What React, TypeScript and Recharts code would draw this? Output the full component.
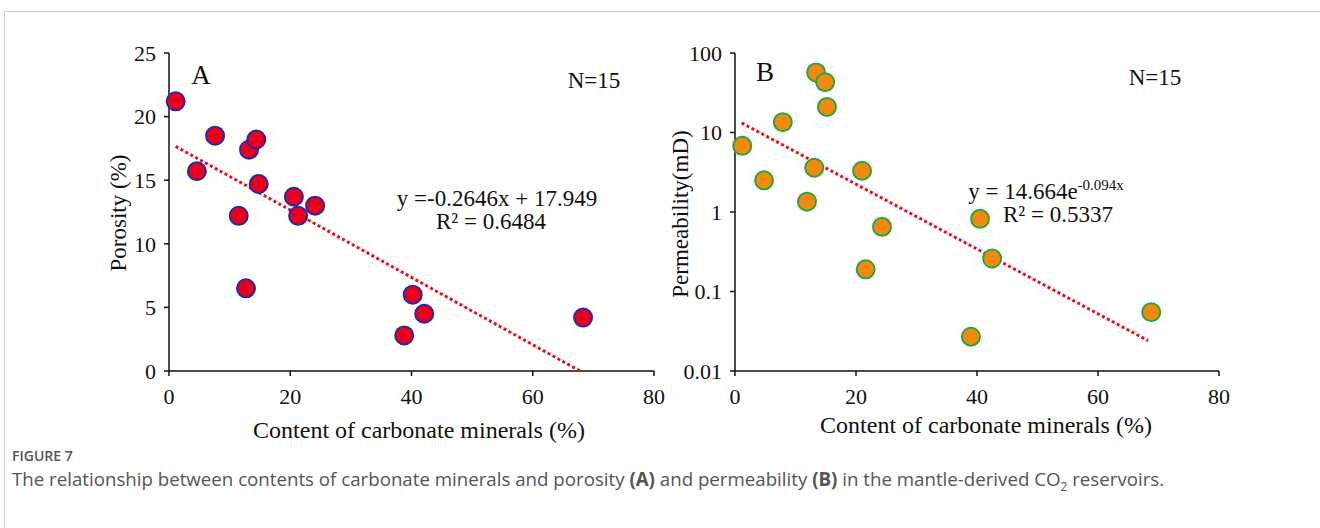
import React from "react";
import {
  ScatterChart,
  Scatter,
  XAxis,
  YAxis,
} from "recharts";

// carbonate content (%) for each sample
const carbonateA = [1.1, 4.6, 7.6, 11.5, 13.2, 12.7, 14.4, 14.8, 20.6, 21.3, 24.1, 38.8, 40.2, 42.1, 68.3];
const porosity = [21.2, 15.7, 18.5, 12.2, 17.4, 6.5, 18.2, 14.7, 13.7, 12.2, 13.0, 2.8, 6.0, 4.5, 4.2];

const carbonateB = [1.2, 4.8, 7.9, 11.9, 13.4, 13.1, 14.9, 15.2, 21.0, 21.6, 24.3, 40.5, 39.0, 42.5, 68.8];
const permeability = [6.8, 2.5, 13.5, 1.35, 57, 3.6, 43, 21, 3.3, 0.19, 0.65, 0.82, 0.027, 0.26, 0.055];

// trend line end points
const trendAx = [1.1, 67.8];
const trendAy = [17.66, 0];
const trendBx = [1.1, 68.3];
const trendBy = [13.2, 0.024];

const xTicks = [0, 20, 40, 60, 80];
const porosityTicks = [0, 5, 10, 15, 20, 25];
const permTicks = [0.01, 0.1, 1, 10, 100];

const ptsA = carbonateA.map((x, i) => ({ x, y: porosity[i] }));
const ptsB = carbonateB.map((x, i) => ({ x, y: permeability[i] }));
const lineA = trendAx.map((x, i) => ({ x, y: trendAy[i] }));
const lineB = trendBx.map((x, i) => ({ x, y: trendBy[i] }));

const serif = '"Liberation Serif", "Times New Roman", serif';
const tickStyle = { fontFamily: serif, fontSize: 22, fill: "#111" };
const axisLine = { stroke: "#111", strokeWidth: 1.5 };

const dotA = (p: any) => (
  <circle cx={p.cx} cy={p.cy} r={9} fill="#e8001c" stroke="#2a2aa0" strokeWidth={2} />
);
const dotB = (p: any) => (
  <circle cx={p.cx} cy={p.cy} r={9} fill="#f28a10" stroke="#2fa33f" strokeWidth={2} />
);
const noDot = () => <g />;
const trendStyle = { stroke: "#e8101a", strokeWidth: 3, strokeDasharray: "3 2.6" };

const T: React.FC<{ x: number; y: number; size?: number; rotate?: boolean; children: React.ReactNode }> = ({
  x,
  y,
  size = 23,
  rotate,
  children,
}) => (
  <div
    style={{
      position: "absolute",
      left: x,
      top: y,
      transform: `translate(-50%, -50%)${rotate ? " rotate(-90deg)" : ""}`,
      fontFamily: serif,
      fontSize: size,
      color: "#111",
      whiteSpace: "nowrap",
      lineHeight: 0.8,
    }}
  >
    {children}
  </div>
);

export default function App() {
  return (
    <div
      style={{
        position: "fixed",
        left: 0,
        top: 0,
        width: 1320,
        height: 528,
        background: "#fff",
        overflow: "hidden",
      }}
    >
      <div
        style={{
          position: "absolute",
          left: 4,
          top: 11,
          width: 1340,
          height: 540,
          border: "1px solid #cfcfcf",
        }}
      />

      {/* chart A */}
      <div style={{ position: "absolute", left: 0, top: 0 }}>
        <ScatterChart width={700} height={460} margin={{ top: 53, right: 46, bottom: 59, left: 109 }}>
          <XAxis
            type="number"
            dataKey="x"
            domain={[0, 80]}
            ticks={xTicks}
            tick={tickStyle}
            tickSize={5}
            tickMargin={12}
            axisLine={axisLine}
            tickLine={axisLine}
            height={30}
          />
          <YAxis
            type="number"
            dataKey="y"
            domain={[0, 25]}
            ticks={porosityTicks}
            tick={tickStyle}
            tickSize={5}
            tickMargin={8}
            axisLine={axisLine}
            tickLine={axisLine}
            width={60}
          />
          <Scatter data={lineA} line={trendStyle} lineType="joint" shape={noDot} isAnimationActive={false} />
          <Scatter data={ptsA} shape={dotA} isAnimationActive={false} />
        </ScatterChart>
      </div>

      {/* chart B */}
      <div style={{ position: "absolute", left: 600, top: 0 }}>
        <ScatterChart width={680} height={460} margin={{ top: 53, right: 61, bottom: 59, left: 75 }}>
          <XAxis
            type="number"
            dataKey="x"
            domain={[0, 80]}
            ticks={xTicks}
            tick={tickStyle}
            tickSize={5}
            tickMargin={12}
            axisLine={axisLine}
            tickLine={axisLine}
            height={30}
          />
          <YAxis
            type="number"
            dataKey="y"
            scale="log"
            domain={[0.01, 100]}
            ticks={permTicks}
            allowDataOverflow
            tickFormatter={(v: number) => String(v)}
            tick={tickStyle}
            tickSize={5}
            tickMargin={8}
            axisLine={axisLine}
            tickLine={axisLine}
            width={60}
          />
          <Scatter data={lineB} line={trendStyle} lineType="joint" shape={noDot} isAnimationActive={false} />
          <Scatter data={ptsB} shape={dotB} isAnimationActive={false} />
        </ScatterChart>
      </div>

      {/* annotations A */}
      <T x={201} y={76} size={27}>A</T>
      <T x={594} y={81}>N=15</T>
      <T x={497} y={199}>y =-0.2646x + 17.949</T>
      <T x={491} y={222}>R² = 0.6484</T>
      <T x={119} y={213} rotate>Porosity (%)</T>
      <T x={419} y={431} size={24}>Content of carbonate minerals (%)</T>

      {/* annotations B */}
      <T x={1046} y={192}>
        y = 14.664e<sup style={{ fontSize: 15, verticalAlign: "9px", lineHeight: 0 }}>-0.094x</sup>
      </T>
      <T x={765} y={73} size={27}>B</T>
      <T x={1155} y={78}>N=15</T>
      <T x={1058} y={215}>R² = 0.5337</T>
      <T x={681} y={214} rotate>Permeability(mD)</T>
      <T x={986} y={426} size={24}>Content of carbonate minerals (%)</T>

      {/* caption */}
      <div
        style={{
          position: "absolute",
          left: 12,
          top: 448,
          fontFamily: '"Open Sans", sans-serif',
          fontWeight: 600,
          fontSize: 14,
          lineHeight: "16px",
          color: "#555",
        }}
      >
        FIGURE 7
      </div>
      <div
        style={{
          position: "absolute",
          left: 12,
          top: 468,
          fontFamily: '"Open Sans", sans-serif',
          fontSize: 18.7,
          lineHeight: "21px",
          color: "#555",
          whiteSpace: "nowrap",
        }}
      >
        The relationship between contents of carbonate minerals and porosity <b>(A)</b> and permeability{" "}
        <b>(B)</b> in the mantle-derived CO<sub style={{ fontSize: 12, lineHeight: 0 }}>2</sub> reservoirs.
      </div>
    </div>
  );
}
